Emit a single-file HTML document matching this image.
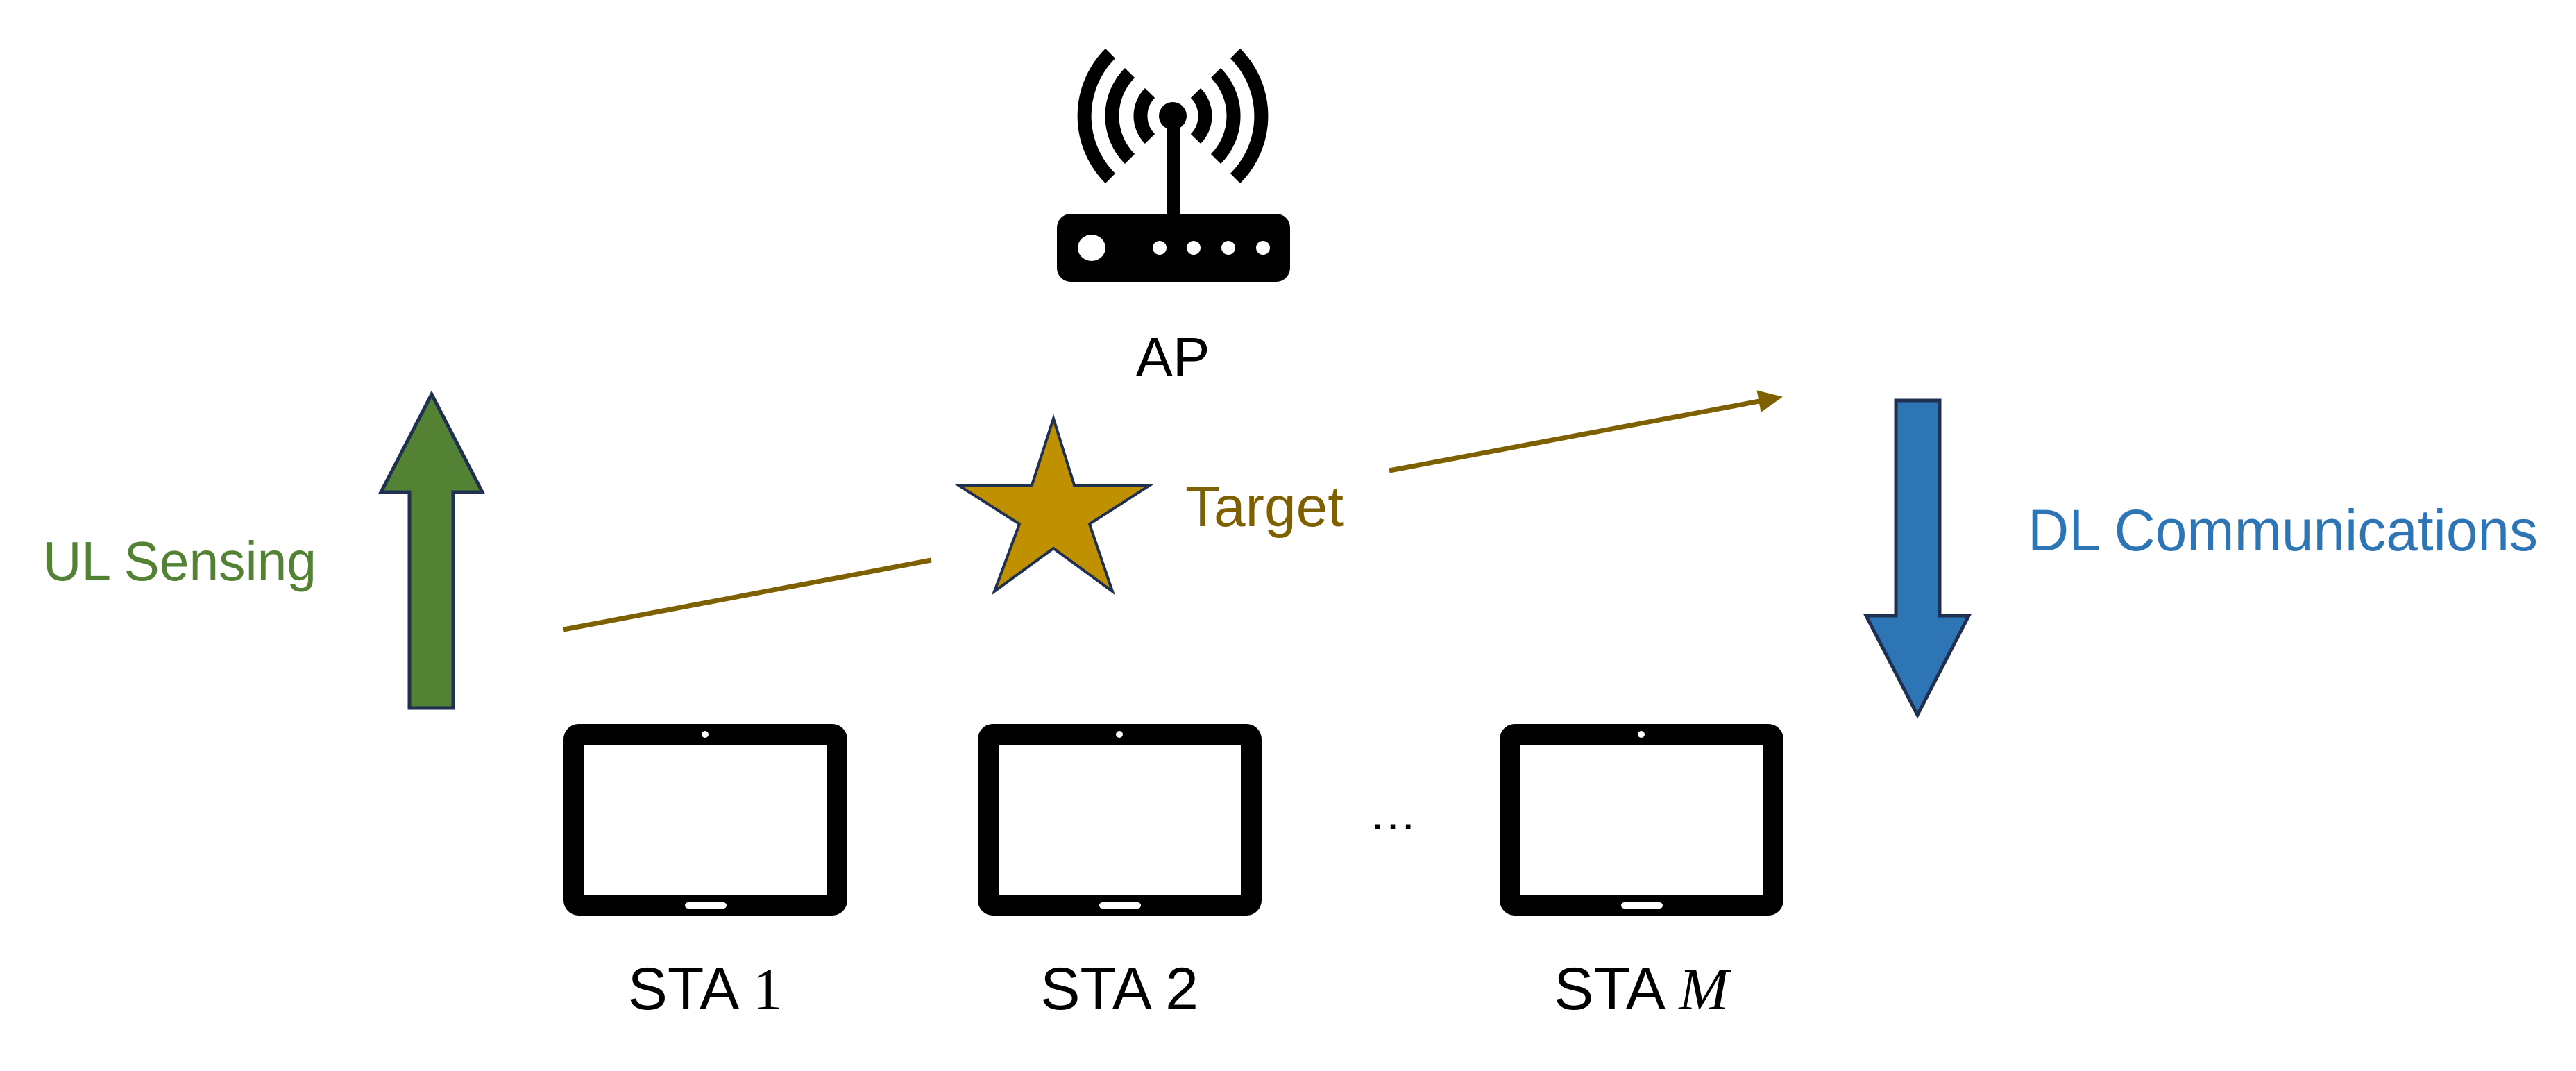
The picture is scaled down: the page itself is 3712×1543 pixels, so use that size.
<!DOCTYPE html>
<html><head><meta charset="utf-8"><style>
html,body{margin:0;padding:0;background:#fff;}
svg{display:block;}
text{font-family:"Liberation Sans",sans-serif;}
</style></head><body>
<svg width="3712" height="1543" viewBox="0 0 3712 1543" xmlns="http://www.w3.org/2000/svg">
<defs>
<marker id="ah" markerWidth="6" markerHeight="6" refX="4" refY="3" orient="auto" markerUnits="strokeWidth">
<path d="M0,0.7 L5,3 L0,5.3 Z" fill="#7f6000"/>
</marker>
</defs>
<rect width="3712" height="1543" fill="#fff"/>

<!-- AP router -->
<g>
<g fill="none" stroke="#000" stroke-width="20" stroke-linecap="butt">
<path d="M1657,134 A47,47 0 0 0 1657,200"/>
<path d="M1723,134 A47,47 0 0 1 1723,200"/>
<path d="M1628,105 A88,88 0 0 0 1628,229"/>
<path d="M1752,105 A88,88 0 0 1 1752,229"/>
<path d="M1600,77 A127,127 0 0 0 1600,257"/>
<path d="M1780,77 A127,127 0 0 1 1780,257"/>
</g>
<circle cx="1690" cy="167" r="20" fill="#000"/>
<rect x="1681" y="170" width="19" height="142" fill="#000"/>
<rect x="1523" y="308" width="336" height="98" rx="20" fill="#000"/>
<ellipse cx="1573" cy="357" rx="20" ry="19" fill="#fff"/>
<circle cx="1671" cy="357" r="10" fill="#fff"/>
<circle cx="1720" cy="357" r="10" fill="#fff"/>
<circle cx="1770" cy="357" r="10" fill="#fff"/>
<circle cx="1820" cy="357" r="10" fill="#fff"/>
</g>
<text x="1690" y="542" font-size="80" text-anchor="middle" fill="#000">AP</text>

<!-- UL arrow -->
<polygon points="622,568 695,709 653,709 653,1020 590,1020 590,709 549,709" fill="#548235" stroke="#1f3050" stroke-width="5"/>
<text x="62" y="836" font-size="80" fill="#548235" textLength="394" lengthAdjust="spacingAndGlyphs">UL Sensing</text>

<!-- DL arrow -->
<polygon points="2732,577 2795,577 2795,887 2837,887 2763,1030 2689,887 2732,887" fill="#2e75b6" stroke="#1f3050" stroke-width="5"/>
<text x="2922" y="793" font-size="84" fill="#2e75b6" textLength="735" lengthAdjust="spacingAndGlyphs">DL Communications</text>

<!-- Target -->
<polygon points="1518,603 1548,699 1657,699 1570,755 1603,852 1518,790 1433,852 1469,755 1381,699 1487,699" fill="#bf9000" stroke="#1f3050" stroke-width="4"/>
<text x="1708" y="758" font-size="82" fill="#7f6000" textLength="228" lengthAdjust="spacingAndGlyphs">Target</text>

<!-- reflection paths -->
<line x1="812" y1="907" x2="1342" y2="807" stroke="#7f6000" stroke-width="7"/>
<line x1="2002" y1="678" x2="2562" y2="573" stroke="#7f6000" stroke-width="7" marker-end="url(#ah)"/>

<!-- Tablets -->
<g>
<rect x="812" y="1043" width="409" height="276" rx="22" fill="#000"/>
<rect x="842" y="1073" width="349" height="217" fill="#fff"/>
<circle cx="1016" cy="1058" r="5" fill="#fff"/>
<rect x="987" y="1300" width="60" height="9" rx="4.5" fill="#fff"/>
</g>
<g>
<rect x="1409" y="1043" width="409" height="276" rx="22" fill="#000"/>
<rect x="1439" y="1073" width="349" height="217" fill="#fff"/>
<circle cx="1613" cy="1058" r="5" fill="#fff"/>
<rect x="1584" y="1300" width="60" height="9" rx="4.5" fill="#fff"/>
</g>
<g>
<rect x="2161" y="1043" width="409" height="276" rx="22" fill="#000"/>
<rect x="2191" y="1073" width="349" height="217" fill="#fff"/>
<circle cx="2365" cy="1058" r="5" fill="#fff"/>
<rect x="2336" y="1300" width="60" height="9" rx="4.5" fill="#fff"/>
</g>
<text x="2007" y="1195" font-size="70" text-anchor="middle" fill="#000">…</text>

<text x="1016" y="1454" font-size="86" text-anchor="middle" fill="#000">STA <tspan font-family="Liberation Serif, serif">1</tspan></text>
<text x="1613" y="1454" font-size="86" text-anchor="middle" fill="#000">STA 2</text>
<text x="2365" y="1454" font-size="86" text-anchor="middle" fill="#000">STA <tspan font-family="Liberation Serif, serif" font-style="italic">M</tspan></text>
</svg>
</body></html>
